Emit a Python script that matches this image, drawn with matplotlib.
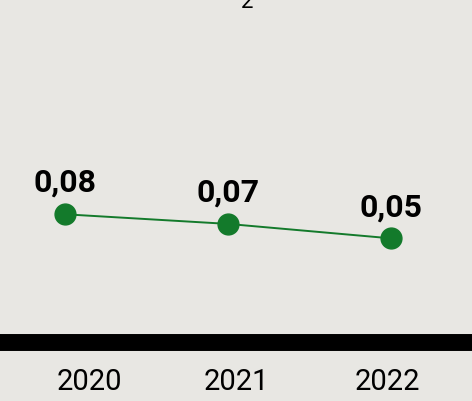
import matplotlib.pyplot as plt

years = ['2020', '2021', '2022']
values = [0.080, 0.068, 0.050]
labels = ['0,08', '0,07', '0,05']

plt.rcParams['font.family'] = ['Roboto', 'DejaVu Sans']

fig = plt.figure(figsize=(4.72, 4.01), dpi=100)
fig.patch.set_facecolor('#e8e7e3')
ax = fig.add_axes([0, 0.148, 1, 0.852])
ax.set_facecolor('#e8e7e3')

x = list(range(len(years)))
ax.plot(x, values, color='#137a2b', lw=1.4, marker='o', ms=15, zorder=3)
for xi, v, lab in zip(x, values, labels):
    ax.annotate(lab, (xi, v), xytext=(0, 16), textcoords='offset points',
                ha='center', va='baseline', fontsize=23, fontweight='bold')

ax.set_xlim(-0.4, 2.5)
ax.set_ylim(-0.079, 0.3475)
ax.set_xticks([0.15, 1.05, 1.98])
ax.set_xticklabels(years, fontsize=21)
ax.tick_params(axis='x', length=0, pad=19)
ax.set_yticks([])
for s in ['top', 'left', 'right']:
    ax.spines[s].set_visible(False)
ax.spines['bottom'].set_linewidth(12.2)
ax.spines['bottom'].set_color('black')

fig.text(247 / 472, 0.980, '2', ha='center', va='baseline', fontsize=16)

fig.savefig('out.png', dpi=100, facecolor=fig.get_facecolor())
